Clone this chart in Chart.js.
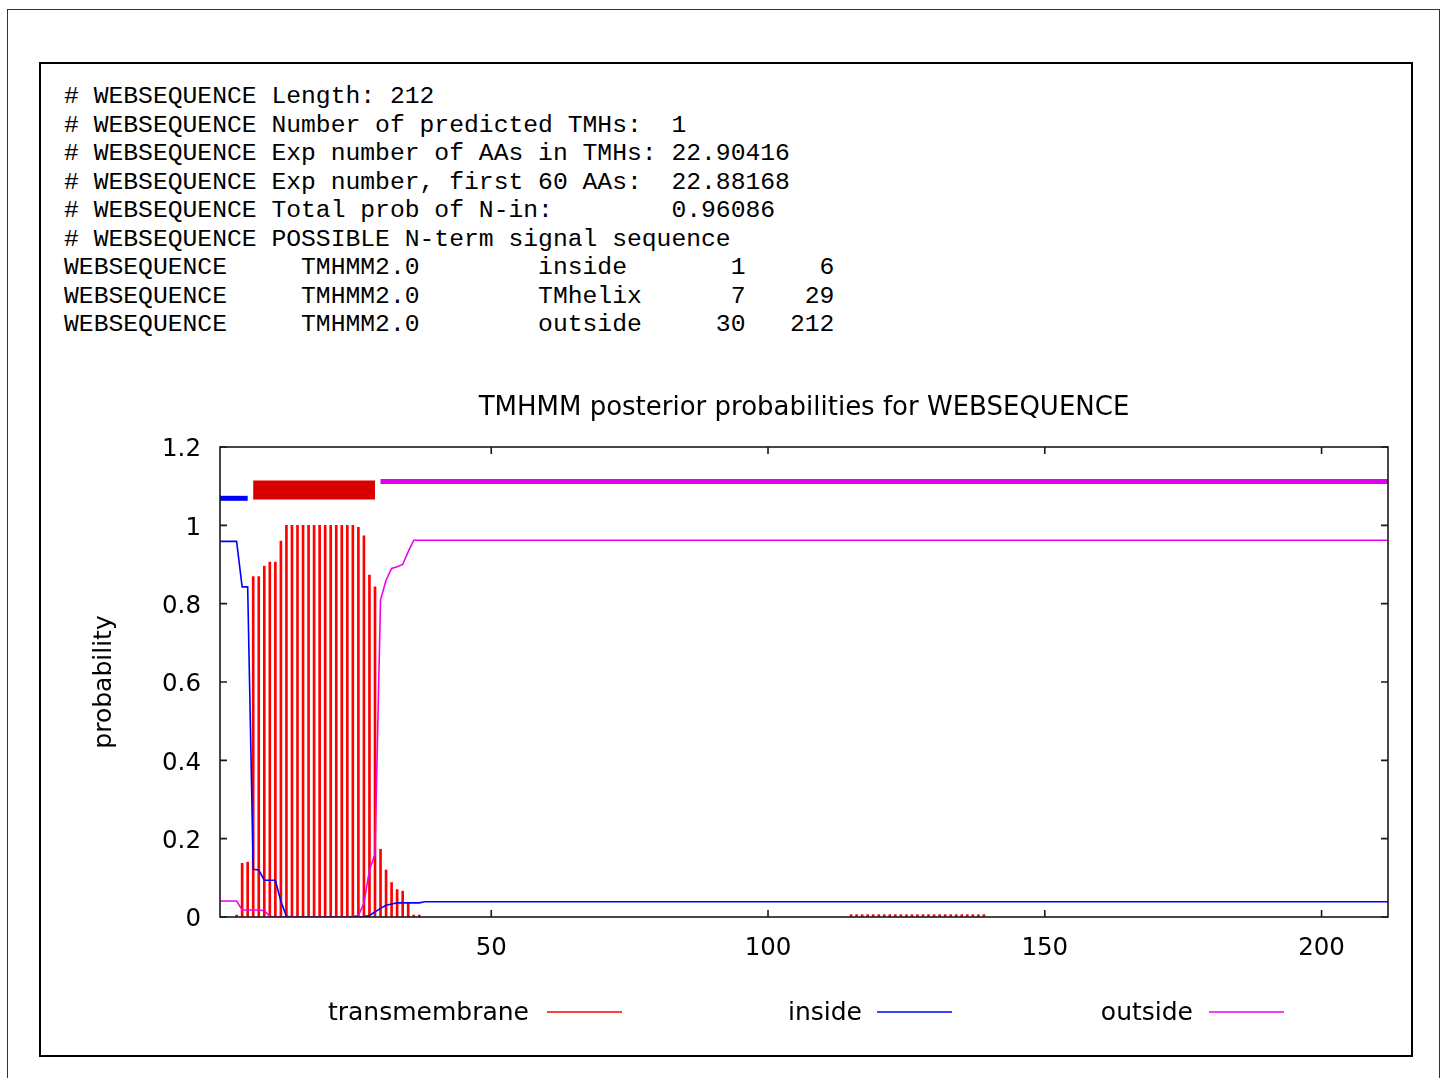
<!DOCTYPE html>
<html><head><meta charset="utf-8">
<script src="https://cdn.jsdelivr.net/npm/chart.js@4/dist/chart.umd.min.js"></script>
<style>
html,body{margin:0;padding:0;background:#fff;width:1444px;height:1078px;overflow:hidden;}
#outer{position:absolute;left:7px;top:9px;width:1433px;height:1200px;border:1px solid #333;box-sizing:border-box;}
#inner{position:absolute;left:39px;top:62px;width:1374px;height:995px;border:2px solid #000;box-sizing:border-box;}
#info{position:absolute;left:64px;top:82px;margin:0;font-family:"Liberation Mono",monospace;font-size:24.7px;line-height:28.5px;color:#000;}
#c{position:absolute;left:0;top:0;}
</style></head><body>
<div id="outer"></div><div id="inner"></div>
<pre id="info"></pre>
<canvas id="c" width="1444" height="1078"></canvas>
<script>
// ---- text block ----
const infoLines = [
  "# WEBSEQUENCE Length: 212",
  "# WEBSEQUENCE Number of predicted TMHs:  1",
  "# WEBSEQUENCE Exp number of AAs in TMHs: 22.90416",
  "# WEBSEQUENCE Exp number, first 60 AAs:  22.88168",
  "# WEBSEQUENCE Total prob of N-in:        0.96086",
  "# WEBSEQUENCE POSSIBLE N-term signal sequence",
  "WEBSEQUENCE     TMHMM2.0        inside       1     6",
  "WEBSEQUENCE     TMHMM2.0        TMhelix      7    29",
  "WEBSEQUENCE     TMHMM2.0        outside     30   212"
];
const chartTitle = "TMHMM posterior probabilities for WEBSEQUENCE";
const yAxisTitle = "probability";

// ---- axes ----
const xMin = 1, xMax = 212;
const xTicks = [50, 100, 150, 200];
const yTicks = [0, 0.2, 0.4, 0.6, 0.8, 1.0, 1.2];
const yTickLabels = ["0", "0.2", "0.4", "0.6", "0.8", "1", "1.2"];

// ---- transmembrane posterior (impulses) ----
const tmX = [4,5,6,7,8,9,10,11,12,13,14,15,16,17,18,19,20,21,22,23,24,25,26,27,28,29,30,31,32,33,34,35,36,37,
  115,116,117,118,119,120,121,122,123,124,125,126,127,128,129,130,131,132,133,134,135,136,137,138,139];
const tmY = [0.005,0.137,0.14,0.869,0.869,0.896,0.906,0.906,0.96,1,1,1,1,1,1,1,1,1,1,1,1,1,0.995,0.973,0.873,0.843,0.173,0.12,0.088,0.07,0.066,0.035,0.005,0.005,
  0.006,0.006,0.006,0.006,0.006,0.006,0.006,0.006,0.006,0.006,0.006,0.006,0.006,0.006,0.006,0.006,0.006,0.006,0.006,0.006,0.006,0.006,0.006,0.006,0.006];

// ---- inside posterior (line) ----
const insideX = [1,2,3,4,5,6,7,8,9,10,11,12,13,14,26,27,28,29,30,31,32,33,37,38,212];
const insideY = [0.959,0.959,0.959,0.959,0.843,0.843,0.122,0.12,0.094,0.094,0.094,0.04,0.002,0,0,0.001,0.004,0.013,0.022,0.03,0.033,0.036,0.036,0.039,0.039];

// ---- outside posterior (line) ----
const outsideX = [1,4,5,8,9,10,11,24,25,26,27,28,29,30,31,32,33,34,35,36,212];
const outsideY = [0.041,0.041,0.018,0.018,0.016,0.002,0,0,0.002,0.004,0.035,0.12,0.16,0.81,0.86,0.89,0.894,0.9,0.933,0.962,0.962];

// ---- predicted topology segments (top bars) ----
const segNames = ["inside", "TMhelix", "outside"];
const segStart = [1, 7, 30];
const segEnd = [6, 29, 212];
const segLevel = [1.069, 1.09, 1.112];

document.getElementById('info').textContent = infoLines.join("\n");

const RED = '#ff0000', BLUE = '#0000ff', MAG = '#f000f0';
const segColors = ['#0000ff', '#d80000', '#e000f0'];
const segWidths = [5, 19, 5];

const pts = (xs, ys) => xs.map((x, i) => ({x: x, y: ys[i]}));

const datasets = [
  {type:'line', label:'outside', data: pts(outsideX, outsideY), borderColor: MAG, borderWidth:1.6, pointRadius:0, tension:0, order:1},
  {type:'line', label:'inside', data: pts(insideX, insideY), borderColor: BLUE, borderWidth:1.6, pointRadius:0, tension:0, order:2},
  {type:'bar', label:'transmembrane', data: pts(tmX, tmY), backgroundColor: RED, borderWidth:0, barThickness:2, order:3}
];
segNames.forEach((n, i) => {
  datasets.push({type:'line', label:'seg-' + n, data: [{x: segStart[i], y: segLevel[i]}, {x: segEnd[i], y: segLevel[i]}],
    borderColor: segColors[i], borderWidth: segWidths[i], borderCapStyle:'butt', pointRadius:0, order:0});
});

const FONT = 'DejaVu Sans';

const frameTicks = {
  id: 'frameTicks',
  afterDatasetsDraw(chart) {
    const {ctx, chartArea: a, scales} = chart;
    ctx.save();
    ctx.strokeStyle = '#1a1a1a';
    ctx.lineWidth = 1.6;
    ctx.strokeRect(a.left, a.top, a.right - a.left, a.bottom - a.top);
    const L = 7;
    ctx.beginPath();
    yTicks.forEach(v => {
      const y = scales.y.getPixelForValue(v);
      ctx.moveTo(a.left, y); ctx.lineTo(a.left + L, y);
      ctx.moveTo(a.right, y); ctx.lineTo(a.right - L, y);
    });
    xTicks.forEach(v => {
      const x = scales.x.getPixelForValue(v);
      ctx.moveTo(x, a.bottom); ctx.lineTo(x, a.bottom - L);
      ctx.moveTo(x, a.top); ctx.lineTo(x, a.top + L);
    });
    ctx.stroke();
    ctx.restore();
  }
};

const keyPlugin = {
  id: 'gnuKey',
  afterDraw(chart, args, opts) {
    const {ctx} = chart;
    ctx.save();
    ctx.font = opts.fontSize + 'px "' + FONT + '"';
    ctx.textAlign = 'right';
    ctx.textBaseline = 'middle';
    ctx.fillStyle = '#000';
    opts.items.forEach((dsIndex, k) => {
      const ds = chart.data.datasets[dsIndex];
      ctx.fillText(ds.label, opts.textRight[k], opts.y + 2);
      ctx.strokeStyle = ds.type === 'line' ? ds.borderColor : ds.backgroundColor;
      ctx.lineWidth = 1.6;
      ctx.beginPath();
      ctx.moveTo(opts.lineStart[k], opts.y + 1);
      ctx.lineTo(opts.lineStart[k] + opts.lineLen, opts.y + 1);
      ctx.stroke();
    });
    ctx.restore();
  }
};

new Chart(document.getElementById('c'), {
  type: 'bar',
  data: {datasets},
  plugins: [frameTicks, keyPlugin],
  options: {
    responsive: false,
    animation: false,
    layout: {padding: {left: 80, top: 392.4, right: 56, bottom: 101}},
    plugins: {
      legend: {display: false},
      tooltip: {enabled: false},
      title: {display: true, text: chartTitle, fullSize: false, color: '#000',
        font: {family: FONT, size: 26, weight: 'normal'}, padding: {top: 0, bottom: 23.4}},
      gnuKey: {items: [2, 1, 0], textRight: [529, 862, 1193], lineStart: [547, 877, 1209], lineLen: 75, y: 1011, fontSize: 25}
    },
    scales: {
      x: {type: 'linear', min: xMin, max: xMax, offset: false,
        grid: {display: false, drawTicks: false}, border: {display: false},
        afterBuildTicks: s => { s.ticks = xTicks.map(v => ({value: v})); },
        afterFit: s => { s.height = 60; },
        ticks: {autoSkip: false, maxRotation: 0, padding: 17, color: '#000',
          font: {family: FONT, size: 24.5}, callback: v => String(v)}},
      y: {type: 'linear', min: 0, max: 1.2,
        grid: {display: false, drawTicks: false}, border: {display: false},
        afterBuildTicks: s => { s.ticks = yTicks.map(v => ({value: v})); },
        afterFit: s => { s.width = 140; },
        ticks: {autoSkip: false, padding: 19, labelOffset: 3, color: '#000',
          font: {family: FONT, size: 24.5}, callback: (v, i) => yTickLabels[i]},
        title: {display: true, text: yAxisTitle, color: '#000',
          font: {family: FONT, size: 25}, padding: {top: 9, bottom: 0}}}
    }
  }
});
</script>
</body></html>
